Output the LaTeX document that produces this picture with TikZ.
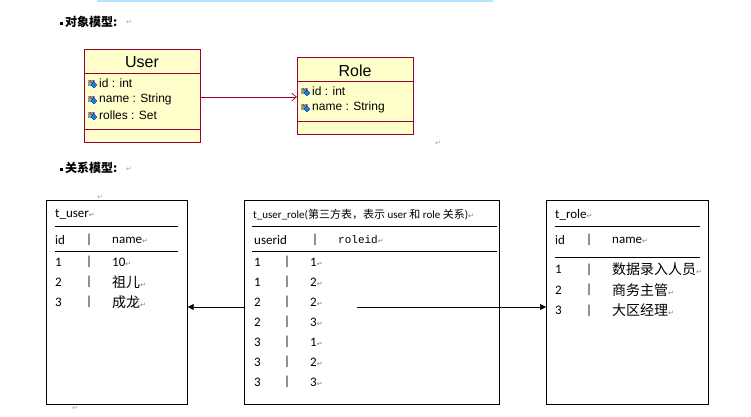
\documentclass[tikz,border=0pt]{standalone}
\usepackage{fontspec}
\setmainfont{Liberation Sans}
\newfontfamily\cjk{Noto Sans CJK SC}
\newfontfamily\calfont{Carlito}
\newfontfamily\djfont{DejaVu Sans}
\newfontfamily\monofont{Liberation Mono}
\usetikzlibrary{arrows.meta}
\definecolor{umlfill}{HTML}{FFFFCC}
\definecolor{umlline}{HTML}{990033}
\newcommand\retmark{\textcolor{gray}{\djfont\fontsize{7}{7}\selectfont↵}}
\begin{document}
\begin{tikzpicture}[x=1pt,y=-1pt,
  umlbox/.style={draw=umlline,fill=umlfill,line width=0.8pt},
  tbl/.style={draw=black,line width=0.7pt},
  txt/.style={anchor=west,inner sep=0pt,font=\calfont\fontsize{13}{13}\selectfont},
  attr/.style={anchor=west,inner sep=0pt,font=\fontsize{12}{12}\selectfont},
  ret/.style={anchor=west,inner sep=0pt,text=gray!70,font=\djfont\fontsize{7}{7}\selectfont},
  hd/.style={anchor=west,inner sep=0pt,font=\cjk\bfseries\fontsize{12}{12}\selectfont},
  attricon/.pic={\fill[gray!80] (-4,-3) rectangle (3,3); \draw[gray!30!black,line width=0.4pt] (-2,-3) arc (180:0:2 and 2.5);
     \fill[cyan!70!blue,draw=blue!60!black,line width=0.3pt] (2,-1)--(5,2)--(2,5)--(-1,2)--cycle;}]
\useasboundingbox (0,0) rectangle (751,416);
\fill[white] (0,0) rectangle (751,416);
\draw[line width=2.5pt,blue!35!cyan!30] (97,1) -- (493,1);
% headings
\node[hd] (h1) at (60,22) {\rule[0.25ex]{3pt}{3pt}\,对象模型:};
\node[ret] at (126,22) {↵};
\node[hd] (h2) at (60,168) {\rule[0.25ex]{3pt}{3pt}\,关系模型:};
\node[ret] at (126,169) {↵};
% UML User
\draw[umlbox] (84,49) rectangle (200,142);
\node[minimum width=116,minimum height=93,anchor=north west,inner sep=0pt] (user) at (84,49) {};
\draw[umlline,line width=0.8pt] (84,73) -- (200,73);
\draw[umlline,line width=0.8pt] (84,129) -- (200,129);
\node[inner sep=0pt,font=\fontsize{16}{16}\selectfont] (usert) at (142,62) {User};
\pic at (92,83) {attricon}; \node[attr] (u1) at (99,83) {id : int};
\pic at (92,99) {attricon}; \node[attr] (u2) at (99,99) {name : String};
\pic at (92,115) {attricon}; \node[attr] (u3) at (99,115) {rolles : Set};
% UML Role
\draw[umlbox] (297,57) rectangle (413,134);
\node[minimum width=116,minimum height=77,anchor=north west,inner sep=0pt] (role) at (297,57) {};
\draw[umlline,line width=0.8pt] (297,81) -- (413,81);
\draw[umlline,line width=0.8pt] (297,121) -- (413,121);
\node[inner sep=0pt,font=\fontsize{16}{16}\selectfont] (rolet) at (355,71) {Role};
\pic at (305,91) {attricon}; \node[attr] (r1) at (312,91) {id : int};
\pic at (305,107) {attricon}; \node[attr] (r2) at (312,107) {name : String};
\draw[umlline,line width=0.6pt,-{Straight Barb[length=5pt,width=8pt]}] (user.east |- 0,97) -- (role.west |- 0,97);
\node[ret] at (435,143) {↵};
% tables
\node[tbl,minimum width=141,minimum height=204,anchor=north west,inner sep=0pt] (tu) at (46,200) {};
\node[tbl,minimum width=255,minimum height=204,anchor=north west,inner sep=0pt] (tur) at (244,200) {};
\node[tbl,minimum width=162,minimum height=204,anchor=north west,inner sep=0pt] (tr) at (546,200) {};
\node[ret] at (97,197) {↵};
\node[ret] at (72,408) {↵};
% t_user
\node[txt] at (55,214) {t\_user\retmark};
\draw[line width=0.6pt] (55,226) -- (178,226);
\node[txt] at (55,240) {id}; \node[txt] at (86,240) {|}; \node[txt] at (112,240) {name\retmark};
\draw[line width=0.6pt] (55,251) -- (178,251);
\foreach \a/\b [count=\i] in {1/10,2/{\cjk\fontsize{14}{14}\selectfont 祖儿},3/{\cjk\fontsize{14}{14}\selectfont 成龙}}{
  \node[txt] at (55,242+20*\i) {\a}; \node[txt] at (86,242+20*\i) {|}; \node[txt] at (112,242+20*\i) {\b\retmark};}
% t_user_role
\node[txt,font=\calfont\fontsize{11}{11}\selectfont] at (253,215) {t\_user\_role({\cjk 第三方表，表示} user {\cjk 和} role {\cjk 关系})\retmark};
\draw[line width=0.6pt] (252,226) -- (497,226);
\node[txt] at (254,240) {userid}; \node[txt] at (312,240) {|}; \node[txt,font=\monofont\fontsize{11}{11}\selectfont] at (338,240) {roleid\retmark};
\draw[line width=0.6pt] (252,251) -- (497,251);
\foreach \a/\b [count=\i] in {1/1,1/2,2/2,2/3,3/1,3/2,3/3}{
  \node[txt] at (254,242+20*\i) {\a}; \node[txt] at (284,242+20*\i) {|}; \node[txt] at (310,242+20*\i) {\b\retmark};}
% t_role
\node[txt] at (555,215) {t\_role\retmark};
\draw[line width=0.6pt] (555,226) -- (700,226);
\node[txt] at (555,240) {id}; \node[txt] at (586,240) {|}; \node[txt] at (612,240) {name\retmark};
\draw[line width=0.6pt] (555,257) -- (700,257);
\foreach \a/\b [count=\i] in {1/数据录入人员,2/商务主管,3/大区经理}{
  \node[txt] at (555,249+20.5*\i) {\a}; \node[txt] at (586,249+20.5*\i) {|}; \node[txt] at (612,249+20.5*\i) {{\cjk\fontsize{14}{14}\selectfont\b}\retmark};}
% connectors
\coordinate (s1) at (tur.west |- 0,307);
\coordinate (s2) at (357,307);
\draw[line width=0.7pt,-{Triangle[length=6pt,width=6pt]}] (s1) -- (tu.east |- s1);
\draw[line width=0.7pt,-{Triangle[length=6pt,width=6pt]}] (s2) -- (tr.west |- s2);
\end{tikzpicture}
\end{document}
